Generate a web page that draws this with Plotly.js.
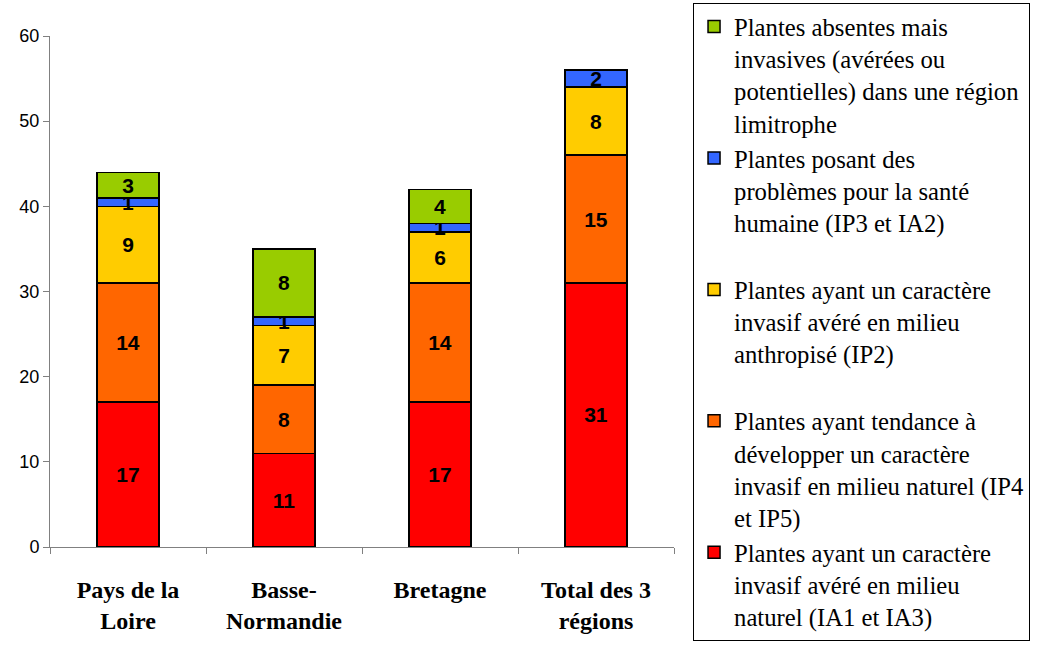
<!DOCTYPE html>
<html>
<head>
<meta charset="utf-8">
<script src="https://cdn.plot.ly/plotly-3.0.1.min.js"></script>
<style>html,body{margin:0;padding:0;background:#fff;}#chart{width:1042px;height:659px;}</style>
</head>
<body>
<div id="chart"></div>
<script>
const categories = ["Pays de la<br>Loire", "Basse-<br>Normandie", "Bretagne", "Total des 3<br>régions"];

const seriesNames = [
  "Plantes ayant un caractère<br>invasif avéré en milieu<br>naturel (IA1 et IA3)",
  "Plantes ayant tendance à<br>développer un caractère<br>invasif en milieu naturel (IP4<br>et IP5)",
  "Plantes ayant un caractère<br>invasif avéré en milieu<br>anthropisé (IP2)<br> ",
  "Plantes posant des<br>problèmes pour la santé<br>humaine (IP3 et IA2)<br> ",
  "Plantes absentes mais<br>invasives (avérées ou<br>potentielles) dans une région<br>limitrophe"
];

const ia1ia3   = [17, 11, 17, 31];
const ip4ip5   = [14, 8, 14, 15];
const ip2      = [9, 7, 6, 8];
const ip3ia2   = [1, 1, 1, 2];
const absentes = [3, 8, 4, 0];

const seriesValues = [ia1ia3, ip4ip5, ip2, ip3ia2, absentes];
const seriesColors = ["#FF0000", "#FF6600", "#FFCC00", "#3366FF", "#99CC00"];

const traces = seriesValues.map((vals, i) => ({
  type: "bar",
  name: seriesNames[i],
  x: categories,
  y: vals.map(v => v === 0 ? null : v),
  text: vals.map(v => v === 0 ? "" : String(v)),
  textposition: "inside",
  insidetextanchor: "middle",
  textangle: 0,
  constraintext: "none",
  cliponaxis: false,
  textfont: {family: "Liberation Sans, Arial, sans-serif", size: 21, color: "#000000", weight: "bold"},
  marker: {color: seriesColors[i], line: {color: "#000000", width: 1.5}},
  hoverinfo: "x+y+name"
}));

const layout = {
  width: 1042,
  height: 659,
  barmode: "stack",
  bargap: 0.6,
  paper_bgcolor: "#ffffff",
  plot_bgcolor: "#ffffff",
  margin: {l: 50, r: 368, t: 36, b: 112, autoexpand: false},
  font: {family: "Liberation Sans, Arial, sans-serif", color: "#000000"},
  xaxis: {
    type: "category",
    showline: true,
    linecolor: "#808080",
    linewidth: 1,
    ticks: "outside",
    tickson: "boundaries",
    ticklen: 6,
    tickcolor: "#808080",
    ticklabelstandoff: 21,
    showgrid: false,
    zeroline: false,
    tickfont: {family: "Liberation Serif, Times New Roman, serif", size: 24, color: "#000000", weight: "bold"}
  },
  yaxis: {
    range: [0, 60],
    dtick: 10,
    showline: true,
    linecolor: "#808080",
    linewidth: 1,
    ticks: "outside",
    ticklen: 6,
    tickcolor: "#808080",
    showgrid: false,
    zeroline: false,
    tickfont: {family: "Liberation Sans, Arial, sans-serif", size: 18, color: "#000000"}
  },
  showlegend: true,
  legend: {
    x: 1.0305,
    xanchor: "left",
    y: 1.0646,
    yanchor: "top",
    maxheight: 700,
    traceorder: "reversed",
    valign: "top",
    bordercolor: "#000000",
    borderwidth: 1,
    bgcolor: "#ffffff",
    font: {family: "Liberation Serif, Times New Roman, serif", size: 24.7, color: "#000000"},
    itemclick: false
  }
};

Plotly.newPlot("chart", traces, layout, {displayModeBar: false});
</script>
</body>
</html>
